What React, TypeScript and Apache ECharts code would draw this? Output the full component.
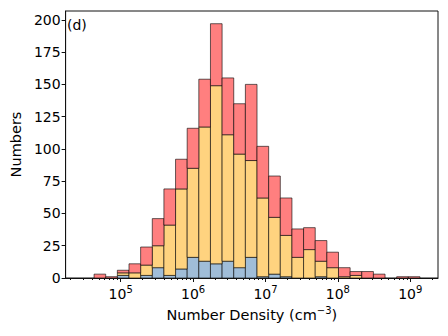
import React, { useEffect, useRef } from "react";
import * as echarts from "echarts";

// Histogram bins (log10 of number density), as produced by log-spaced bins
const binLogMin = 4.632;
const binLogMax = 9.134;
const binCount = 28;

// Stacked counts per bin (bottom -> top)
const blueCounts = [0, 0, 2, 0, 2, 8, 2, 7, 16, 13, 11, 13, 8, 16, 1, 3, 1, 0, 0, 1, 0, 0, 0, 0, 0, 0, 0, 0];
const yellowCounts = [0, 0, 2, 4, 8, 17, 39, 62, 69, 104, 138, 98, 88, 75, 61, 44, 32, 16, 22, 12, 8, 1, 2, 0, 0, 0, 0, 0];
const redCounts = [3, 1, 2, 7, 14, 21, 28, 23, 31, 37, 48, 44, 39, 59, 40, 32, 29, 22, 17, 16, 12, 7, 3, 5, 3, 0, 1, 1];

const xMinLog = 4.239;
const xMaxLog = 9.383;
const yMax = 206.85;
const majorExps = [5, 6, 7, 8, 9];
const yTicks = [0, 25, 50, 75, 100, 125, 150, 175, 200];

const FONT = "DejaVu Sans";

function buildSegments(lower: number[], counts: number[]) {
  const w = (binLogMax - binLogMin) / binCount;
  const out: number[][] = [];
  counts.forEach((c, i) => {
    if (c <= 0) return;
    const x0 = binLogMin + i * w;
    out.push([x0, x0 + w, lower[i], lower[i] + c]);
  });
  return out;
}

export default function App() {
  const ref = useRef<HTMLDivElement>(null);
  useEffect(() => {
    if (!ref.current) return;
    const chart = echarts.init(ref.current, undefined, { renderer: "svg" });

    const zeros = blueCounts.map(() => 0);
    const cumBlue = blueCounts.slice();
    const cumYellow = blueCounts.map((b, i) => b + yellowCounts[i]);

    const minor: number[] = [];
    for (let n = 4; n <= 9; n++) {
      for (let k = 2; k <= 9; k++) {
        const v = n + Math.log10(k);
        if (v > xMinLog && v < xMaxLog) minor.push(v);
      }
    }

    const renderItem = (color: string) => (params: any, api: any) => {
      const p0 = api.coord([api.value(0), api.value(3)]);
      const p1 = api.coord([api.value(1), api.value(2)]);
      return {
        type: "rect",
        shape: { x: p0[0], y: p0[1], width: p1[0] - p0[0], height: p1[1] - p0[1] },
        style: { fill: color, stroke: "rgba(0,0,0,0.6)", lineWidth: 1 },
      };
    };

    const mkSeries = (name: string, data: number[][], color: string) => ({
      type: "custom",
      name,
      xAxisIndex: 0,
      yAxisIndex: 0,
      renderItem: renderItem(color),
      encode: { x: [0, 1], y: [2, 3] },
      data,
      clip: true,
    });

    chart.setOption({
      animation: false,
      textStyle: { fontFamily: FONT },
      grid: {
        left: 63,
        right: 10,
        top: 11,
        bottom: 58,
        show: true,
        borderColor: "#111",
        borderWidth: 1,
        backgroundColor: "transparent",
      },
      xAxis: [
        {
          type: "value",
          min: xMinLog,
          max: xMaxLog,
          position: "bottom",
          axisLine: { show: true, lineStyle: { color: "#111", width: 1 } },
          axisTick: { show: true, customValues: majorExps, length: 4, lineStyle: { color: "#111" } },
          axisLabel: {
            customValues: majorExps,
            margin: 6,
            color: "#000",
            fontFamily: FONT,
            formatter: (v: number) => `{b|10}{s|${Math.round(v)}}`,
            rich: {
              b: { fontSize: 14, fontFamily: FONT, color: "#000" },
              s: { fontSize: 10, fontFamily: FONT, color: "#000", padding: [0, 0, 9, 0] },
            },
          },
          splitLine: { show: false },
          name: "Number Density (cm{s|−3})",
          nameLocation: "middle",
          nameGap: 27,
          nameTextStyle: {
            fontSize: 14.5,
            fontFamily: FONT,
            color: "#000",
            rich: {
              s: { fontSize: 10, fontFamily: FONT, color: "#000", padding: [0, 0, 9, 0] },
            },
          },
        },
        {
          type: "value",
          min: xMinLog,
          max: xMaxLog,
          position: "bottom",
          axisLine: { show: false },
          axisTick: { show: true, customValues: minor, length: 2, lineStyle: { color: "#111" } },
          axisLabel: { show: false },
          splitLine: { show: false },
        },
      ],
      yAxis: {
        type: "value",
        min: 0,
        max: yMax,
        axisLine: { show: true, lineStyle: { color: "#111", width: 1 } },
        axisTick: { show: true, customValues: yTicks, length: 4, lineStyle: { color: "#111" } },
        axisLabel: { customValues: yTicks, fontSize: 14, color: "#000", fontFamily: FONT, margin: 5 },
        splitLine: { show: false },
        name: "Numbers",
        nameLocation: "middle",
        nameGap: 38,
        nameTextStyle: { fontSize: 14.5, fontFamily: FONT, color: "#000" },
      },
      graphic: [
        {
          type: "text",
          left: 67,
          top: 18,
          style: { text: "(d)", font: `14px "${FONT}"`, fill: "#000" },
        },
      ],
      series: [
        mkSeries("blue", buildSegments(zeros, blueCounts), "#A0BDD8"),
        mkSeries("yellow", buildSegments(cumBlue, yellowCounts), "#FFD37F"),
        mkSeries("red", buildSegments(cumYellow, redCounts), "#FF7F7F"),
      ],
    });
    return () => chart.dispose();
  }, []);
  return <div ref={ref} style={{ width: 448, height: 336, margin: -8 }} />;
}
